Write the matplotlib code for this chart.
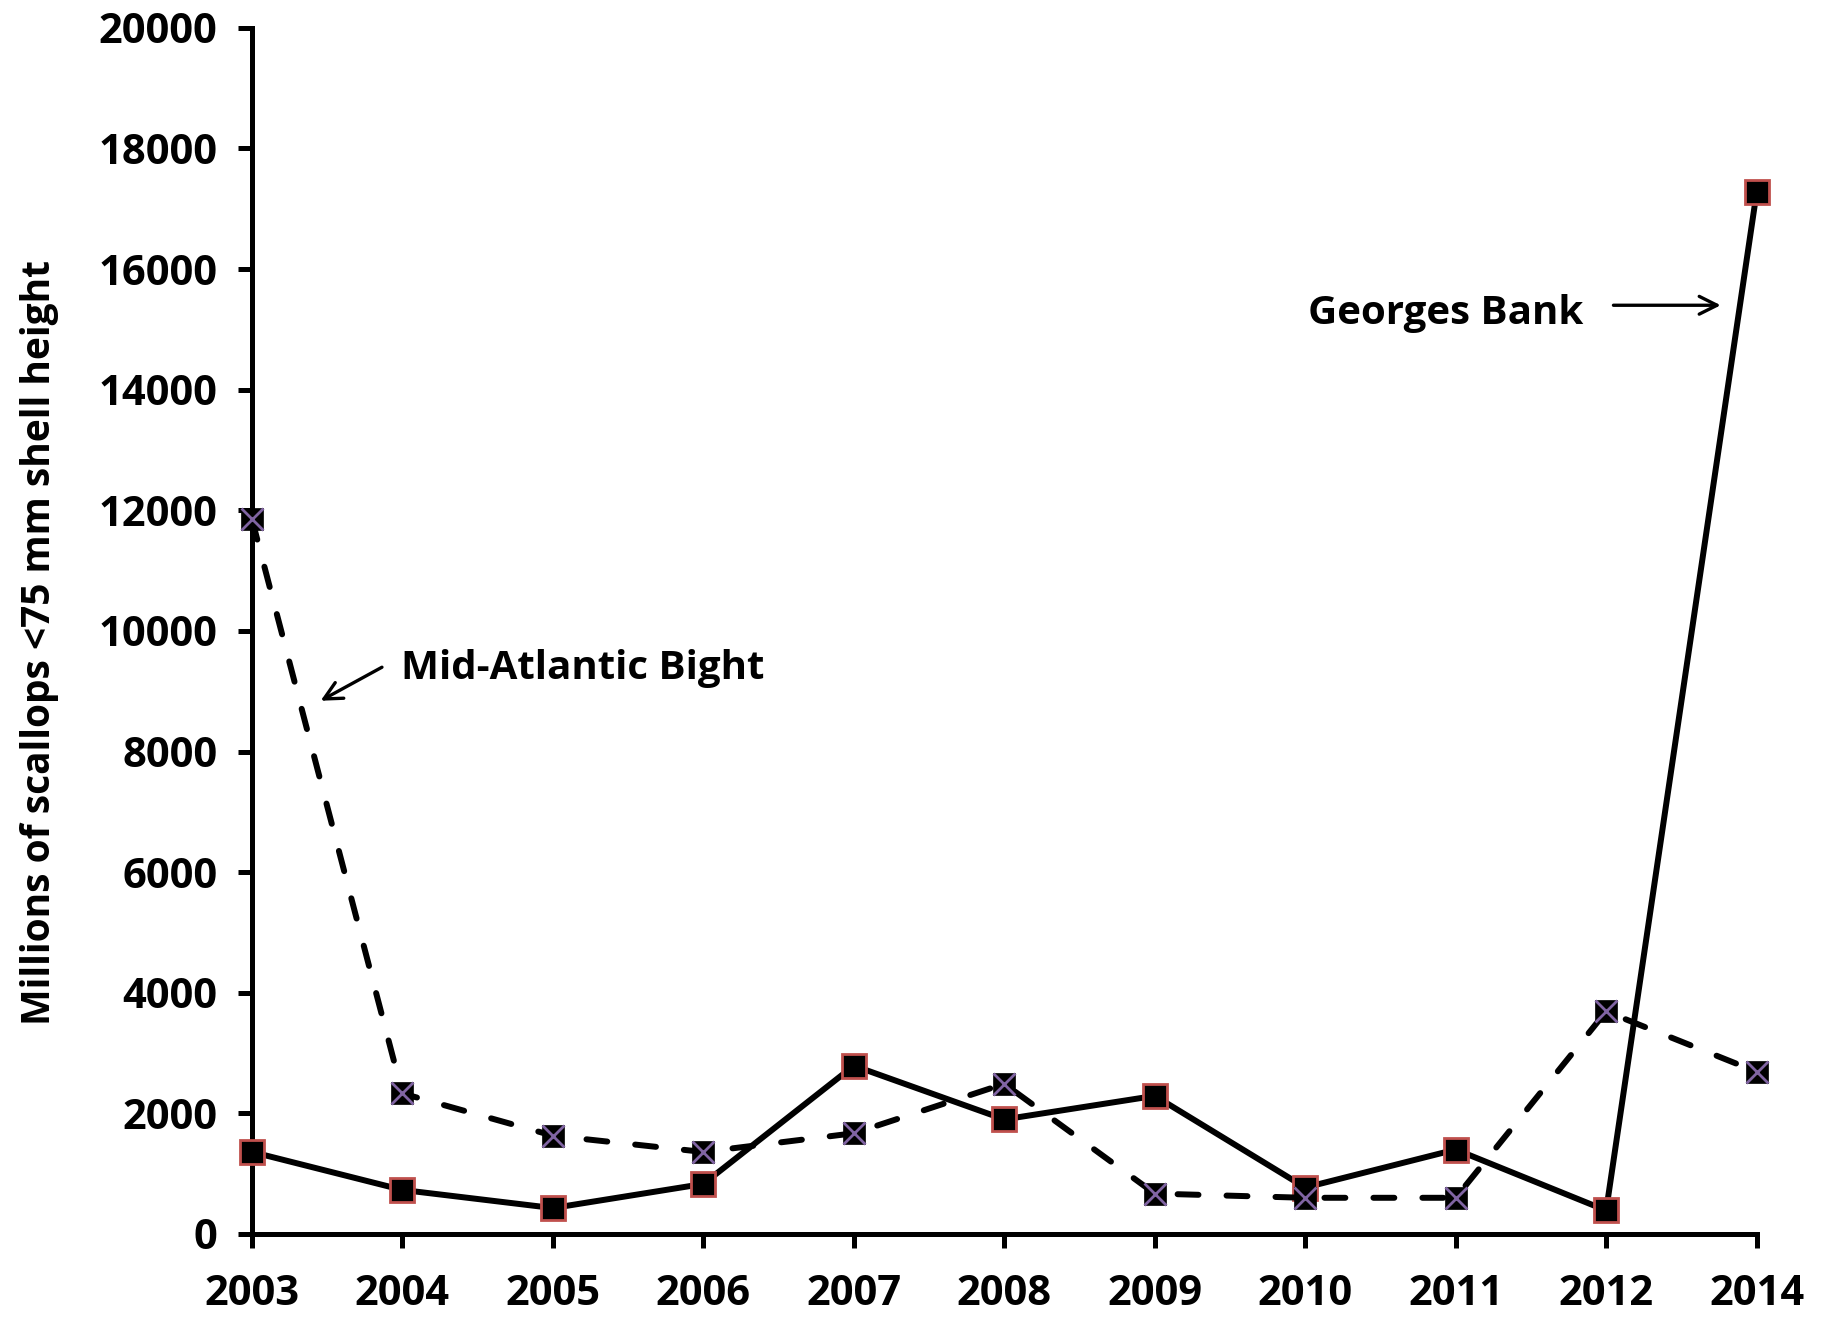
import matplotlib
matplotlib.use("Agg")
import matplotlib.pyplot as plt
import numpy as np

years = ['2003', '2004', '2005', '2006', '2007', '2008', '2009', '2010', '2011', '2012', '2014']
georges_bank = [1360, 730, 430, 830, 2790, 1900, 2290, 770, 1400, 390, 17270]
mid_atlantic = [11850, 2330, 1630, 1360, 1670, 2490, 670, 600, 600, 3690, 2690]
yticks = [0, 2000, 4000, 6000, 8000, 10000, 12000, 14000, 16000, 18000, 20000]

plt.rcParams['font.family'] = ['Open Sans', 'DejaVu Sans']
plt.rcParams['font.weight'] = 'bold'

fig = plt.figure(figsize=(18.26, 13.26), dpi=100)
ax = fig.add_axes([0.138, 0.0694, 0.824, 0.9096])

x = np.arange(len(years))

# Georges Bank - solid line, black squares with red edge
ax.plot(x, georges_bank, color='black', lw=4.3, ls='-', marker='s', ms=17,
        mfc='black', mec='#c0504d', mew=2, zorder=3, clip_on=False)

# Mid-Atlantic Bight - dashed line, black squares with purple cross
ax.plot(x, mid_atlantic, color='black', lw=4.3, ls=(0, (3.5, 4.7)), dash_capstyle='round',
        marker='s', ms=16, mfc='black', mec='black', mew=0.5, zorder=4, clip_on=False)
ax.plot(x, mid_atlantic, ls='none', marker='x', ms=16, mec='#8064a2', mew=2,
        zorder=5, clip_on=False)

ax.set_xlim(0, 10)
ax.set_ylim(0, 20000)
ax.set_xticks(x)
ax.set_xticklabels(years)
ax.set_yticks(yticks)
ax.set_yticklabels([str(v) for v in yticks])

for s in ['top', 'right']:
    ax.spines[s].set_visible(False)
for s in ['left', 'bottom']:
    ax.spines[s].set_linewidth(3.6)

ax.tick_params(axis='both', direction='out', length=10, width=3.6, labelsize=30)
ax.tick_params(axis='x', pad=19)
ax.tick_params(axis='y', pad=15)

ax.set_ylabel('Millions of scallops <75 mm shell height', fontsize=28, fontweight='bold')
ax.yaxis.set_label_coords(-0.128, 0.49)

ax.annotate('', xy=(9.78, 15400), xytext=(9.03, 15400),
            arrowprops=dict(arrowstyle='->', lw=2.4, color='black', mutation_scale=32))
ax.text(8.85, 15270, 'Georges Bank', ha='right', va='center', fontsize=29, fontweight='bold')

ax.annotate('', xy=(0.44, 8820), xytext=(0.88, 9420),
            arrowprops=dict(arrowstyle='->', lw=2.4, color='black', mutation_scale=32))
ax.text(0.99, 9380, 'Mid-Atlantic Bight', ha='left', va='center', fontsize=29, fontweight='bold')

fig.savefig('out.png', dpi=100)
